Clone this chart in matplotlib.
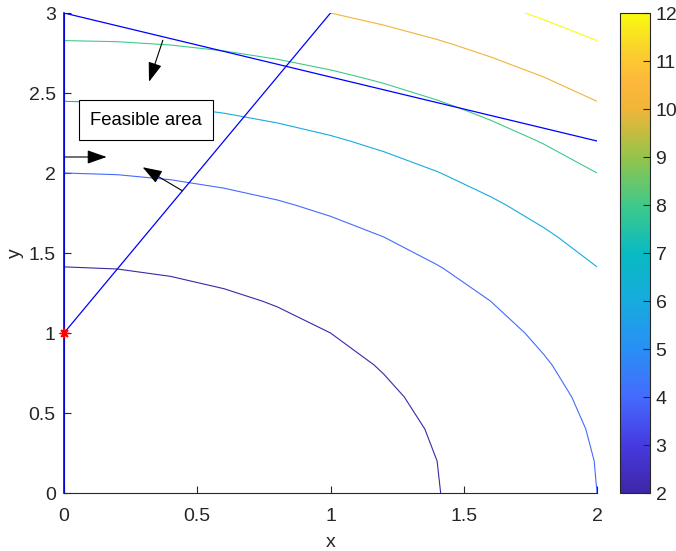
import numpy as np
import matplotlib
matplotlib.use("Agg")
import matplotlib.pyplot as plt
from matplotlib.colors import LinearSegmentedColormap, Normalize
from matplotlib.cm import ScalarMappable

plt.rcParams['font.family'] = ['Liberation Sans', 'DejaVu Sans']

# grid for the objective f(x, y) = x^2 + y^2
x_grid = np.linspace(0, 2, 11)
y_grid = np.linspace(0, 3, 16)
levels = [2, 4, 6, 8, 10, 12]

# constraint lines
c1_x, c1_y = [0, 1], [1, 3]
c2_x, c2_y = [0, 2], [3, 2.2]
c3_x, c3_y = [0, 0], [0, 3]

start_x, start_y = [0], [1]

# arrows: (tail, head) in data coords
arrows = [((0.371, 2.83), (0.319, 2.57)),
          ((0.0, 2.1), (0.16, 2.1)),
          ((0.444, 1.889), (0.295, 2.036))]

x_ticks = [0, 0.5, 1, 1.5, 2]
x_ticklabels = ["0", "0.5", "1", "1.5", "2"]
y_ticks = [0, 0.5, 1, 1.5, 2, 2.5, 3]
y_ticklabels = ["0", "0.5", "1", "1.5", "2", "2.5", "3"]
cb_ticks = [2, 3, 4, 5, 6, 7, 8, 9, 10, 11, 12]

# parula-like colormap
parula = LinearSegmentedColormap.from_list("parula", [
    (0.00, (0.243, 0.150, 0.660)),
    (0.10, (0.275, 0.230, 0.880)),
    (0.20, (0.270, 0.420, 0.995)),
    (0.30, (0.160, 0.560, 0.960)),
    (0.40, (0.090, 0.670, 0.870)),
    (0.50, (0.030, 0.730, 0.760)),
    (0.60, (0.250, 0.790, 0.540)),
    (0.70, (0.580, 0.770, 0.290)),
    (0.80, (0.940, 0.710, 0.220)),
    (0.86, (0.995, 0.720, 0.230)),
    (0.92, (0.985, 0.810, 0.180)),
    (1.00, (0.976, 0.983, 0.054)),
])
norm = Normalize(vmin=2, vmax=12)

fig = plt.figure(figsize=(6.76, 5.51), dpi=100)
ax = fig.add_axes([64 / 676, 58 / 551, 533 / 676, 480 / 551])

X, Y = np.meshgrid(x_grid, y_grid)
Z = X ** 2 + Y ** 2
ax.contour(X, Y, Z, levels=levels, cmap=parula, norm=norm, linewidths=0.8)

ax.plot(c1_x, c1_y, color="blue", lw=0.9)
ax.plot(c2_x, c2_y, color="blue", lw=0.9)
ax.plot(c3_x, c3_y, color="blue", lw=1.2, clip_on=False, zorder=5)
ax.plot(start_x, start_y, color="red", marker=(8, 2, 0), markersize=7,
        linestyle="none", clip_on=False, zorder=6, markeredgewidth=1.0)

for tail, head in arrows:
    ax.annotate("", xy=head, xytext=tail,
                arrowprops=dict(arrowstyle="-|>,head_length=1.2,head_width=0.42",
                                color="black", lw=0.8, shrinkA=0, shrinkB=0))

ax.text(0.306, 2.331, "Feasible area", ha="center", va="center", fontsize=13.3,
        color="black",
        bbox=dict(boxstyle="square,pad=0.6", facecolor="white",
                  edgecolor="black", lw=0.8))

ax.set_xlim(0, 2)
ax.set_ylim(0, 3)
ax.set_xticks(x_ticks)
ax.set_xticklabels(x_ticklabels)
ax.set_yticks(y_ticks)
ax.set_yticklabels(y_ticklabels)
ax.set_xlabel("x", fontsize=14, color="#262626", labelpad=6)
ax.set_ylabel("y", fontsize=14, color="#262626", labelpad=3)
ax.tick_params(direction="in", length=5, width=0.8, labelsize=14,
               colors="#262626")
ax.tick_params(axis="x", pad=11)
ax.tick_params(axis="y", pad=6)
for s in ["top", "right"]:
    ax.spines[s].set_visible(False)
for s in ["left", "bottom"]:
    ax.spines[s].set_color("#262626")
    ax.spines[s].set_linewidth(0.8)

cax = fig.add_axes([620 / 676, 58 / 551, 30 / 676, 480 / 551])
sm = ScalarMappable(norm=norm, cmap=parula)
cb = fig.colorbar(sm, cax=cax, ticks=cb_ticks)
cb.outline.set_edgecolor("#262626")
cb.outline.set_linewidth(0.8)
cax.tick_params(direction="in", length=5, width=0.8, labelsize=14,
                colors="#262626", pad=4)

fig.savefig("out.png", dpi=100)
